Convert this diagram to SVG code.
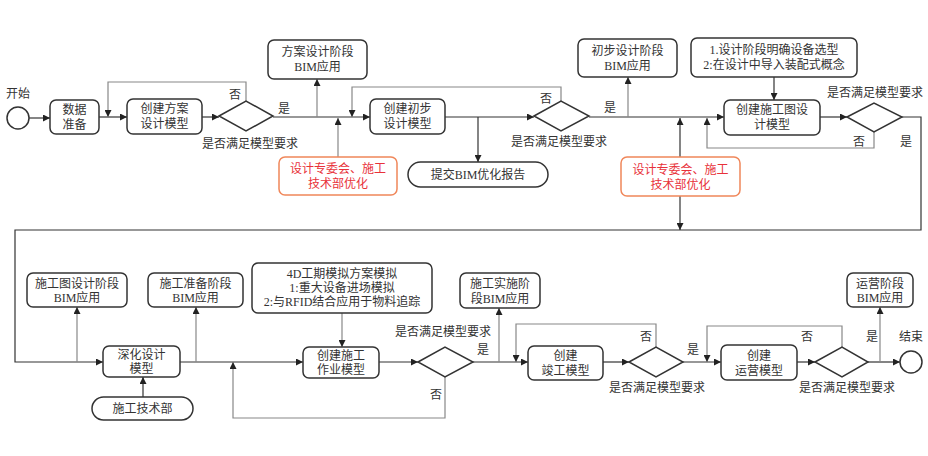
<svg xmlns="http://www.w3.org/2000/svg" width="928" height="456" viewBox="0 0 928 456">
<style>
text{font-family:"Liberation Serif","Noto Sans CJK SC",serif;font-size:12px;fill:#333;text-anchor:middle}
.box{fill:#fff;stroke:#333;stroke-width:1.5}
.red{fill:#fff;stroke:#f0875a;stroke-width:1.5}
text.r{fill:#e8323a}
.ln{fill:none;stroke:#333;stroke-width:1.2}
.gl{fill:none;stroke:#888;stroke-width:1.2}
</style>
<defs>
<marker id="a" viewBox="0 0 10 10" refX="10" refY="5" markerWidth="7" markerHeight="7" markerUnits="userSpaceOnUse" orient="auto"><path d="M0,0L10,5L0,10z" fill="#222"/></marker>
</defs>
<rect width="928" height="456" fill="#fff"/>
<g id="connectors">
<path class="ln" d="M29,118H50" marker-end="url(#a)"/>
<path class="ln" d="M99,117H127" marker-end="url(#a)"/>
<path class="gl" d="M246,101V82H108V117" marker-end="url(#a)"/>
<path class="ln" d="M202,117H219" marker-end="url(#a)"/>
<path class="ln" d="M273,117H370" marker-end="url(#a)"/>
<path class="gl" d="M317,117V79" marker-end="url(#a)"/>
<path class="gl" d="M338,157V118" marker-end="url(#a)"/>
<path class="gl" d="M561,101V87H352V117" marker-end="url(#a)"/>
<path class="ln" d="M445,117H534" marker-end="url(#a)"/>
<path class="ln" d="M478,117V162" marker-end="url(#a)"/>
<path class="ln" d="M589,117H724" marker-end="url(#a)"/>
<path class="gl" d="M628,117V77" marker-end="url(#a)"/>
<path class="ln" d="M774,77V100" marker-end="url(#a)"/>
<path class="ln" d="M680,157V118" marker-end="url(#a)"/>
<path class="ln" d="M680,196V230" marker-end="url(#a)"/>
<path class="gl" d="M874,132V148H707V118" marker-end="url(#a)"/>
<path class="ln" d="M820,117H847" marker-end="url(#a)"/>
<path class="ln" d="M902,117H921V230H15V362H103" marker-end="url(#a)"/>
<path class="gl" d="M77,362V307" marker-end="url(#a)"/>
<path class="ln" d="M143,397V377" marker-end="url(#a)"/>
<path class="ln" d="M180,362H303" marker-end="url(#a)"/>
<path class="gl" d="M196,362V307" marker-end="url(#a)"/>
<path class="gl" d="M445,377V418H233V362" marker-end="url(#a)"/>
<path class="gl" d="M342,313V347" marker-end="url(#a)"/>
<path class="ln" d="M379,362H418" marker-end="url(#a)"/>
<path class="ln" d="M473,362H528" marker-end="url(#a)"/>
<path class="gl" d="M499,362V308" marker-end="url(#a)"/>
<path class="gl" d="M656,347V324H516V362" marker-end="url(#a)"/>
<path class="ln" d="M603,362H629" marker-end="url(#a)"/>
<path class="ln" d="M683,362H721" marker-end="url(#a)"/>
<path class="gl" d="M842,347V326H707V362" marker-end="url(#a)"/>
<path class="ln" d="M797,362H815" marker-end="url(#a)"/>
<path class="ln" d="M868,362H900" marker-end="url(#a)"/>
<path class="gl" d="M880,362V307" marker-end="url(#a)"/>
</g>
<g id="start"><circle cx="18" cy="118" r="11" class="box"/><text x="18" y="98">开始</text></g>
<g id="n-data"><rect class="box" x="50" y="100" width="49" height="34" rx="6"/><text x="74.5" y="113.5">数据</text><text x="74.5" y="128.5">准备</text></g>
<g id="n-scheme"><rect class="box" x="127" y="99" width="75" height="35" rx="6"/><text x="164.5" y="113">创建方案</text><text x="164.5" y="128">设计模型</text></g>
<g id="d1"><path class="box" d="M219,116L246,101L273,116L246,131z"/><text x="235" y="99">否</text><text x="284" y="113">是</text><text x="250" y="148">是否满足模型要求</text></g>
<g id="n-scheme-bim"><rect class="box" x="268" y="40" width="99" height="39" rx="6"/><text x="317.5" y="56">方案设计阶段</text><text x="317.5" y="71">BIM应用</text></g>
<g id="n-red1"><rect class="red" x="279" y="157" width="118" height="38" rx="6"/><text class="r" x="338" y="173">设计专委会、施工</text><text class="r" x="338" y="188">技术部优化</text></g>
<g id="n-prelim"><rect class="box" x="370" y="99" width="75" height="35" rx="6"/><text x="407.5" y="113">创建初步</text><text x="407.5" y="128">设计模型</text></g>
<g id="n-report"><rect class="box" x="408" y="162" width="140" height="25" rx="12.5"/><text x="478" y="179">提交BIM优化报告</text></g>
<g id="d2"><path class="box" d="M534,116L561,101L589,116L561,131z"/><text x="546" y="103">否</text><text x="610" y="112">是</text><text x="559" y="146">是否满足模型要求</text></g>
<g id="n-prelim-bim"><rect class="box" x="578" y="39" width="99" height="38" rx="6"/><text x="627.5" y="55">初步设计阶段</text><text x="627.5" y="70">BIM应用</text></g>
<g id="n-note1"><rect class="box" x="691" y="38" width="166" height="39" rx="6"/><text x="774" y="54">1.设计阶段明确设备选型</text><text x="774" y="69">2:在设计中导入装配式概念</text></g>
<g id="n-cd"><rect class="box" x="724" y="100" width="96" height="35" rx="6"/><text x="772" y="114">创建施工图设</text><text x="772" y="129">计模型</text></g>
<g id="n-red2"><rect class="red" x="621" y="157" width="119" height="39" rx="6"/><text class="r" x="680.5" y="174">设计专委会、施工</text><text class="r" x="680.5" y="189">技术部优化</text></g>
<g id="d3"><path class="box" d="M847,117L874,103L902,117L874,132z"/><text x="875" y="97">是否满足模型要求</text><text x="859" y="146">否</text><text x="906" y="146">是</text></g>
<g id="n-cd-bim"><rect class="box" x="27" y="273" width="100" height="34" rx="6"/><text x="77" y="288">施工图设计阶段</text><text x="77" y="302">BIM应用</text></g>
<g id="n-prep-bim"><rect class="box" x="148" y="273" width="95" height="34" rx="6"/><text x="195.5" y="288">施工准备阶段</text><text x="195.5" y="302">BIM应用</text></g>
<g id="n-deep"><rect class="box" x="103" y="346" width="77" height="31" rx="6"/><text x="141.5" y="359">深化设计</text><text x="141.5" y="373">模型</text></g>
<g id="n-tech"><rect class="box" x="92" y="397" width="101" height="23" rx="11.5"/><text x="142.5" y="413">施工技术部</text></g>
<g id="n-note2"><rect class="box" x="252" y="263" width="180" height="50" rx="6"/><text x="342" y="278">4D工期模拟方案模拟</text><text x="342" y="292">1:重大设备进场模拟</text><text x="342" y="306">2:与RFID结合应用于物料追踪</text></g>
<g id="n-work"><rect class="box" x="303" y="347" width="76" height="31" rx="6"/><text x="341" y="360">创建施工</text><text x="341" y="374">作业模型</text></g>
<g id="d4"><path class="box" d="M418,362L445,347L473,362L445,377z"/><text x="443" y="336">是否满足模型要求</text><text x="483" y="354">是</text><text x="436" y="399">否</text></g>
<g id="n-impl-bim"><rect class="box" x="460" y="273" width="80" height="35" rx="6"/><text x="500" y="288">施工实施阶</text><text x="500" y="303">段BIM应用</text></g>
<g id="n-asbuilt"><rect class="box" x="528" y="346" width="75" height="34" rx="6"/><text x="565.5" y="360">创建</text><text x="565.5" y="375">竣工模型</text></g>
<g id="d5"><path class="box" d="M629,362L656,347L683,362L656,377z"/><text x="646" y="341">否</text><text x="693" y="354">是</text><text x="657" y="392">是否满足模型要求</text></g>
<g id="n-ops"><rect class="box" x="721" y="345" width="76" height="35" rx="6"/><text x="759" y="360">创建</text><text x="759" y="375">运营模型</text></g>
<g id="d6"><path class="box" d="M815,362L842,347L868,362L842,377z"/><text x="807" y="341">否</text><text x="872" y="341">是</text><text x="847" y="392">是否满足模型要求</text></g>
<g id="n-ops-bim"><rect class="box" x="847" y="273" width="66" height="34" rx="6"/><text x="880" y="288">运营阶段</text><text x="880" y="302">BIM应用</text></g>
<g id="end"><circle cx="911" cy="362" r="11" class="box"/><text x="911" y="341">结束</text></g>
</svg>
